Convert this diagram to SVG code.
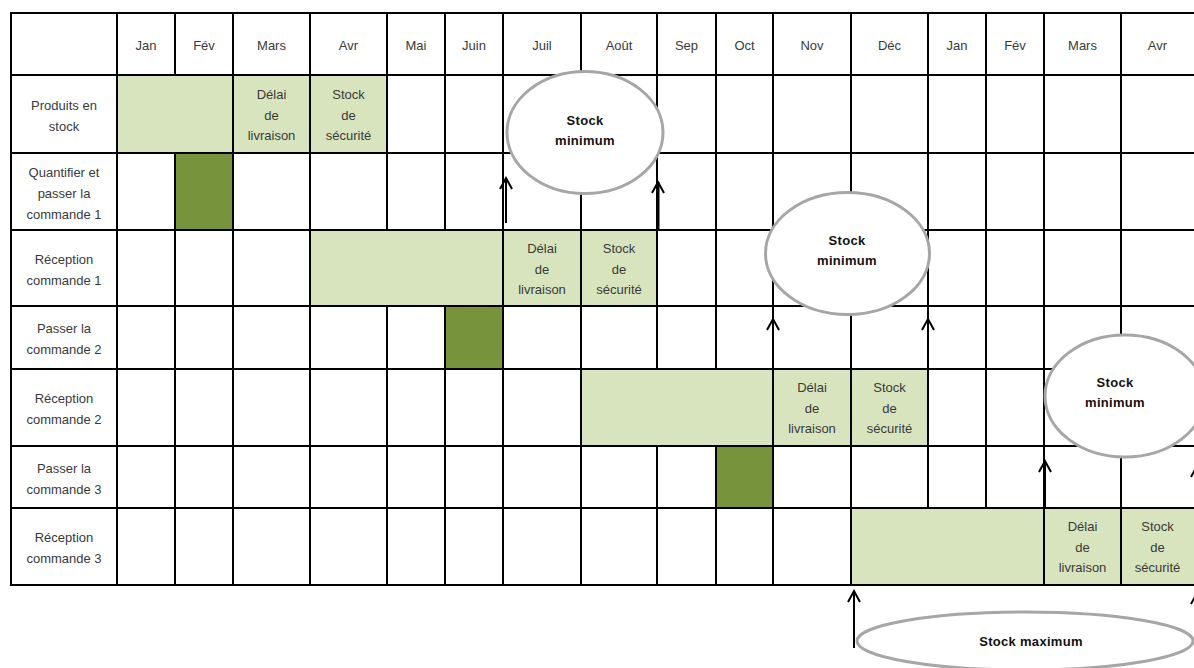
<svg xmlns="http://www.w3.org/2000/svg" width="1194" height="668" viewBox="0 0 1194 668">
  <style>
    .t { font-family: "Liberation Sans", Arial, sans-serif; font-size: 13px; fill: #3a3a3a; text-anchor: middle; }
    .b { font-family: "Liberation Sans", Arial, sans-serif; font-size: 13px; font-weight: bold; fill: #111; text-anchor: middle; letter-spacing: 0.3px; }
    .light { fill: #d7e4bd; }
    .dark { fill: #77933c; }
    .grid { stroke: #000; stroke-width: 2; fill: none; }
    .bubble { fill: #fff; stroke: #a6a6a6; stroke-width: 3; }
    .arrow { stroke: #000; stroke-width: 2; fill: none; }
    .thick { stroke-width: 3; }
  </style>
  <defs>
    <!-- open chevron head, drawn along +x so orient="auto" follows the line -->
    <marker id="head" markerUnits="userSpaceOnUse" markerWidth="16" markerHeight="16" viewBox="-14 -8 16 16" refX="0" refY="0" orient="auto" overflow="visible">
      <path d="M-11,-6 L0,0 L-11,6" stroke="#000" stroke-width="2" fill="none"/>
    </marker>
  </defs>
  <rect width="1194" height="668" fill="#fff"/>

  <!-- cell fills -->
  <g id="fills">
    <rect class="light" x="117" y="75" width="116" height="78"/>
    <rect class="light" x="233" y="75" width="77" height="78"/>
    <rect class="light" x="310" y="75" width="77" height="78"/>
    <rect class="dark" x="175" y="153" width="58" height="77"/>
    <rect class="light" x="310" y="230" width="193" height="76"/>
    <rect class="light" x="503" y="230" width="78" height="76"/>
    <rect class="light" x="581" y="230" width="76" height="76"/>
    <rect class="dark" x="445" y="306" width="58" height="63"/>
    <rect class="light" x="581" y="369" width="192" height="77"/>
    <rect class="light" x="773" y="369" width="78" height="77"/>
    <rect class="light" x="851" y="369" width="77" height="77"/>
    <rect class="dark" x="716" y="446" width="57" height="62"/>
    <rect class="light" x="851" y="508" width="193" height="77"/>
    <rect class="light" x="1044" y="508" width="77" height="77"/>
    <rect class="light" x="1121" y="508" width="73" height="77"/>
  </g>

  <!-- table rules -->
  <g id="grid" class="grid">
    <path d="M11,13H1194M11,75H1194M11,153H1194M11,230H1194M11,306H1194M11,369H1194M11,446H1194M11,508H1194M11,585H1194"/>
    <path d="M11,12V586M117,13V585M175,13V75M175,153V585M233,13V585M310,13V585M387,13V230M387,306V585M445,13V230M445,306V585M503,13V585M581,13V585M657,13V369M657,446V585M716,13V369M716,446V585M773,13V585M851,13V585M928,13V508M986,13V508M1044,13V585M1121,13V585"/>
  </g>

  <!-- month header -->
  <g id="months">
    <text x="146" y="50" class="t">Jan</text>
    <text x="204" y="50" class="t">Fév</text>
    <text x="271.5" y="50" class="t">Mars</text>
    <text x="348.5" y="50" class="t">Avr</text>
    <text x="416" y="50" class="t">Mai</text>
    <text x="474" y="50" class="t">Juin</text>
    <text x="542" y="50" class="t">Juil</text>
    <text x="619" y="50" class="t">Août</text>
    <text x="686.5" y="50" class="t">Sep</text>
    <text x="744.5" y="50" class="t">Oct</text>
    <text x="812" y="50" class="t">Nov</text>
    <text x="889.5" y="50" class="t">Déc</text>
    <text x="957" y="50" class="t">Jan</text>
    <text x="1015" y="50" class="t">Fév</text>
    <text x="1082.5" y="50" class="t">Mars</text>
    <text x="1157.5" y="50" class="t">Avr</text>
  </g>

  <!-- row headings -->
  <g id="rows">
    <text class="t" x="64" y="110">Produits en</text>
    <text class="t" x="64" y="130.5">stock</text>
    <text class="t" x="64" y="177">Quantifier et</text>
    <text class="t" x="64" y="198">passer la</text>
    <text class="t" x="64" y="219">commande 1</text>
    <text class="t" x="64" y="264">Réception</text>
    <text class="t" x="64" y="285">commande 1</text>
    <text class="t" x="64" y="333">Passer la</text>
    <text class="t" x="64" y="354">commande 2</text>
    <text class="t" x="64" y="403">Réception</text>
    <text class="t" x="64" y="424">commande 2</text>
    <text class="t" x="64" y="473">Passer la</text>
    <text class="t" x="64" y="494">commande 3</text>
    <text class="t" x="64" y="542">Réception</text>
    <text class="t" x="64" y="563">commande 3</text>
  </g>

  <!-- delivery lead time / safety stock cells -->
  <g id="cell-labels">
    <text class="t" x="271.5" y="99">Délai</text>
    <text class="t" x="271.5" y="119.5">de</text>
    <text class="t" x="271.5" y="140">livraison</text>
    <text class="t" x="348.5" y="99">Stock</text>
    <text class="t" x="348.5" y="119.5">de</text>
    <text class="t" x="348.5" y="140">sécurité</text>

    <text class="t" x="542" y="253">Délai</text>
    <text class="t" x="542" y="273.5">de</text>
    <text class="t" x="542" y="294">livraison</text>
    <text class="t" x="619" y="253">Stock</text>
    <text class="t" x="619" y="273.5">de</text>
    <text class="t" x="619" y="294">sécurité</text>

    <text class="t" x="812" y="392">Délai</text>
    <text class="t" x="812" y="412.5">de</text>
    <text class="t" x="812" y="433">livraison</text>
    <text class="t" x="889.5" y="392">Stock</text>
    <text class="t" x="889.5" y="412.5">de</text>
    <text class="t" x="889.5" y="433">sécurité</text>

    <text class="t" x="1082.5" y="531">Délai</text>
    <text class="t" x="1082.5" y="551.5">de</text>
    <text class="t" x="1082.5" y="572">livraison</text>
    <text class="t" x="1157.5" y="531">Stock</text>
    <text class="t" x="1157.5" y="551.5">de</text>
    <text class="t" x="1157.5" y="572">sécurité</text>
  </g>

  <!-- connectors -->
  <g id="connectors">
    <path class="arrow" d="M506,223V178" marker-end="url(#head)"/>
    <path class="arrow thick" d="M658,230V182" marker-end="url(#head)"/>
    <path class="arrow" d="M773,369V319" marker-end="url(#head)"/>
    <path class="arrow" d="M928,369V319" marker-end="url(#head)"/>
    <path class="arrow" d="M1045,508V461" marker-end="url(#head)"/>
    <path class="arrow" d="M1197,508V466" marker-end="url(#head)"/>
    <path class="arrow" d="M854,648V591" marker-end="url(#head)"/>
    <path class="arrow" d="M1197,648V593" marker-end="url(#head)"/>
  </g>

  <!-- stock level bubbles -->
  <g id="stock-min-1">
    <ellipse class="bubble" cx="585" cy="132.5" rx="78" ry="61"/>
    <text class="b" x="585" y="125">Stock</text>
    <text class="b" x="585" y="145">minimum</text>
  </g>
  <g id="stock-min-2">
    <ellipse class="bubble" cx="847.5" cy="253.5" rx="82" ry="61"/>
    <text class="b" x="847" y="245">Stock</text>
    <text class="b" x="847" y="265">minimum</text>
  </g>
  <g id="stock-min-3">
    <ellipse class="bubble" cx="1125" cy="396" rx="80" ry="61"/>
    <text class="b" x="1115" y="387">Stock</text>
    <text class="b" x="1115" y="407">minimum</text>
  </g>
  <g id="stock-max">
    <ellipse class="bubble" cx="1025" cy="641" rx="168" ry="29"/>
    <text class="b" x="1031" y="646">Stock maximum</text>
  </g>
</svg>
